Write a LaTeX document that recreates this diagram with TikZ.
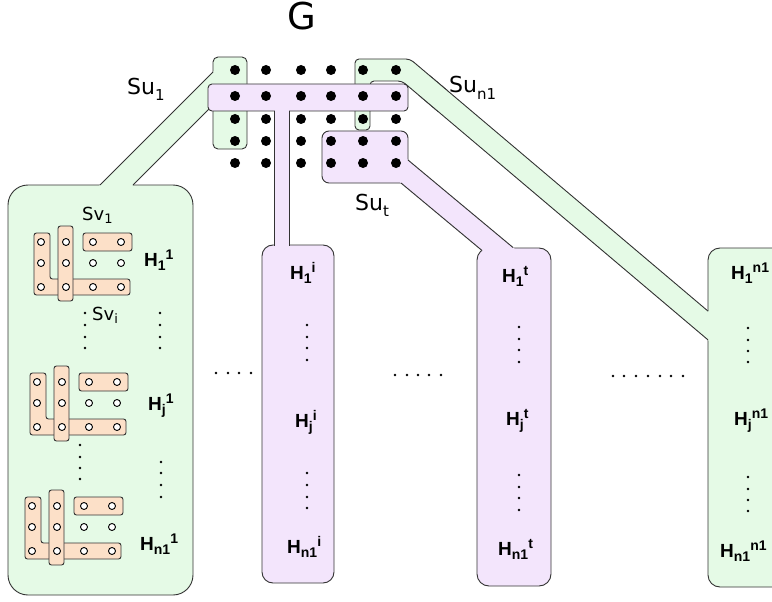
\documentclass[tikz,border=0pt]{standalone}
\usepackage{fontspec}
\newfontfamily\dvs{DejaVu Sans}
\newfontfamily\lbs{Liberation Sans}
\definecolor{gfill}{HTML}{E5FAE6}
\definecolor{pfill}{HTML}{F3E5FC}
\definecolor{ofill}{HTML}{FCE0C8}
\definecolor{edgec}{HTML}{333333}
\newcommand{\HL}[2]{{\lbs\bfseries\fontsize{19}{19}\selectfont H\raisebox{-4pt}{\fontsize{14}{14}\selectfont #1}\raisebox{6.5pt}{\fontsize{14}{14}\selectfont #2}}}
\newcommand{\SUL}[2]{{\dvs\fontsize{22}{22}\selectfont #1\raisebox{-6pt}{\fontsize{15}{15}\selectfont #2}}}
\newcommand{\SVL}[2]{{\dvs\fontsize{18}{18}\selectfont #1\raisebox{-3pt}{\fontsize{13}{13}\selectfont #2}}}
\newcommand{\subicon}[2]{%
\begin{scope}[shift={(#1,#2)}]
\filldraw[ish] (34,233) -- (50,233) -- (50,279) -- (130,279) -- (130,295) -- (34,295) -- cycle;
\filldraw[ish] (58,226) rectangle (73,301);
\filldraw[ish] (83,233) rectangle (132,251);
\foreach \xx in {41,66,93,121}{\foreach \yy in {242,263,287}{\filldraw[vtx] (\xx,\yy) circle[radius=3.5];}}
\end{scope}}
\begin{document}
\begin{tikzpicture}[x=1pt,y=-1pt,
  gsh/.style={fill=gfill,draw=edgec,line width=0.9pt},
  psh/.style={fill=pfill,draw=edgec,line width=0.9pt},
  eline/.style={draw=edgec,line width=0.9pt},
  ish/.style={fill=ofill,draw=edgec,line width=0.9pt,rounded corners=2.5pt},
  vtx/.style={fill=white,draw=black,line width=0.9pt},
  gdot/.style={fill=black},
  sdot/.style={fill=black},
  lbl/.style={inner sep=0pt,anchor=base west}]
\useasboundingbox (0,0) rectangle (772,602);
\clip (0,0) rectangle (772,602);
% ---- Su_1 group (green, left)
\filldraw[gsh,rounded corners=20pt] (8,185) rectangle (193,595);
\filldraw[gsh,rounded corners=5pt] (213,57) rectangle (247,149);
\fill[gfill] (216,69) -- (216,102) -- (130,188) -- (97,188) -- cycle;
\draw[eline] (213,72) -- (100,185);
\draw[eline] (213,105) -- (133,185);
% ---- Su_n1 group (green, right)
\filldraw[gsh,rounded corners=4pt] (355,59) -- (410,59) -- (450,92.8) -- (441,114) -- (402,81) -- (370,81) -- (370,130) -- (355,130) -- cycle;
\filldraw[gsh,rounded corners=12pt] (708,248) rectangle (800,587);
\fill[gfill] (430,75.9) -- (711,313.5) -- (711,342.5) -- (420,96.2) -- cycle;
\draw[eline] (430,75.9) -- (708,311.1);
\draw[eline] (420,96.2) -- (708,339.9);
% ---- Su_t group (purple)
\filldraw[psh,rounded corners=7pt] (322,131) rectangle (408,183);
\filldraw[psh,rounded corners=12pt] (477,248) rectangle (551,586);
\fill[pfill] (404,156.7) -- (516,250) -- (486,253.8) -- (397,179.7) -- cycle;
\draw[eline] (408,160) -- (513,247.5);
\draw[eline] (401,183) -- (482,250.5);
% ---- Su_i group (purple T)
\filldraw[psh,rounded corners=4pt] (208,84) rectangle (408,111);
\filldraw[psh,rounded corners=11pt] (262,245) rectangle (334,583);
\fill[pfill] (274.5,108) rectangle (288.5,248);
\draw[eline] (274,111) -- (274,245.5);
\draw[eline] (289,111) -- (289,245.5);
% ---- vertices of G
\foreach \xx in {235,266,301,331,363,396}{\foreach \yy in {70,96,119,141,163}{\fill[gdot] (\xx,\yy) circle[radius=5];}}
% ---- subgraph icons
\subicon{0}{0}
\subicon{-4}{140}
\subicon{-9}{264}
% ---- dots
\foreach \yy in {313,325,337,348}{\fill[sdot] (160,\yy) circle[radius=1.3]; \fill[sdot] (85,\yy) circle[radius=1.3];}
\foreach \yy in {462,473,485,497}{\fill[sdot] (161,\yy) circle[radius=1.3];}
\foreach \yy in {445,457,468,479}{\fill[sdot] (80,\yy) circle[radius=1.3];}
\foreach \yy in {325,337,348,360,473,485,497,508}{\fill[sdot] (307,\yy) circle[radius=1.3];}
\foreach \yy in {327,339,350,362,475,487,498,510}{\fill[sdot] (519,\yy) circle[radius=1.3];}
\foreach \yy in {328,340,351,362,477,489,500,511}{\fill[sdot] (748,\yy) circle[radius=1.3];}
\foreach \xx in {216,228,239,251}{\fill[sdot] (\xx,373) circle[radius=1.3];}
\foreach \xx in {395,407,418,429,441}{\fill[sdot] (\xx,375) circle[radius=1.3];}
\foreach \xx in {613,624,636,648,660,671,683}{\fill[sdot] (\xx,376) circle[radius=1.3];}
% ---- labels
\node[inner sep=0pt,anchor=base] (G) at (302,30) {\dvs\fontsize{37}{37}\selectfont G};
\node[lbl] (su1) at (127,95) {\SUL{Su}{1}};
\node[lbl] (sun1) at (449,93) {\SUL{Su}{n1}};
\node[lbl] (sut) at (355,210) {\SUL{Su}{t}};
\node[lbl] (sv1) at (82,220) {\SVL{Sv}{1}};
\node[lbl] (svi) at (92,320) {\SVL{Sv}{i}};
\node[lbl] (h11) at (144,266) {\HL{1}{1}};
\node[lbl] (hj1) at (148,410) {\HL{j}{1}};
\node[lbl] (hn11) at (140,550) {\HL{n1}{1}};
\node[lbl] (h1i) at (290,279) {\HL{1}{i}};
\node[lbl] (hji) at (295,427) {\HL{j}{i}};
\node[lbl] (hn1i) at (287,553) {\HL{n1}{i}};
\node[lbl] (h1t) at (502,282) {\HL{1}{t}};
\node[lbl] (hjt) at (506,425) {\HL{j}{t}};
\node[lbl] (hn1t) at (498,555) {\HL{n1}{t}};
\node[lbl] (h1n) at (731,279) {\HL{1}{n1}};
\node[lbl] (hjn) at (734,425) {\HL{j}{n1}};
\node[lbl] (hn1n) at (720,557) {\HL{n1}{n1}};
\end{tikzpicture}
\end{document}
